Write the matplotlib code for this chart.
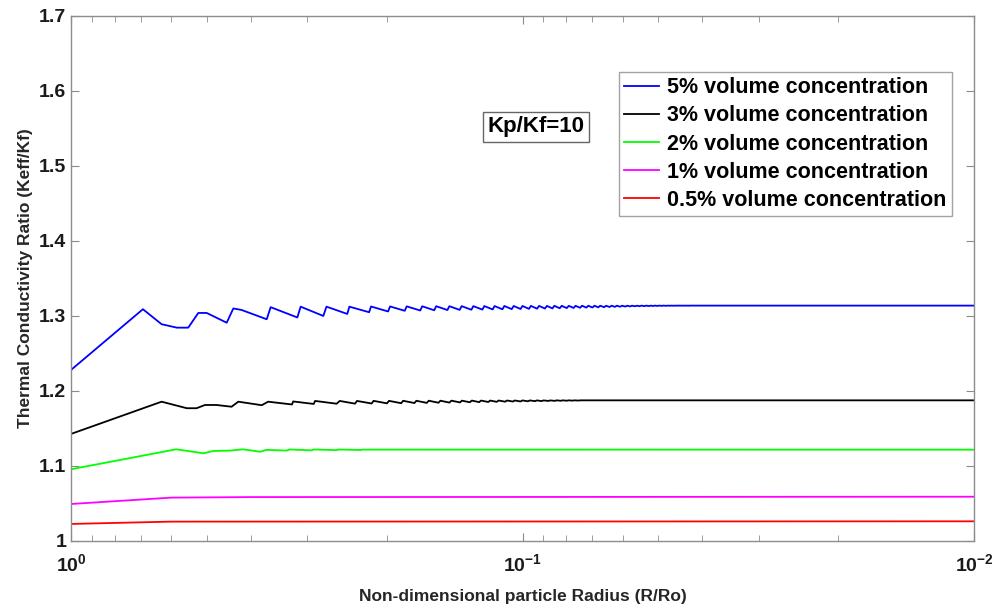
import numpy as np
import matplotlib
matplotlib.use("Agg")
import matplotlib.pyplot as plt
from matplotlib.ticker import LogLocator, NullFormatter, FixedLocator

plt.rcParams['font.family'] = ['Liberation Sans', 'DejaVu Sans']
plt.rcParams['font.weight'] = 'bold'
plt.rcParams['mathtext.fontset'] = 'custom'
plt.rcParams['mathtext.rm'] = 'Liberation Sans:bold'
plt.rcParams['mathtext.bf'] = 'Liberation Sans:bold'
plt.rcParams['mathtext.it'] = 'Liberation Sans:bold'

# ---- data (x = R/Ro, y = Keff/Kf) ----
labels = ['5% volume concentration', '3% volume concentration',
          '2% volume concentration', '1% volume concentration',
          '0.5% volume concentration']
colors = ['#0000ff', '#000000', '#00ff00', '#ff00ff', '#ff0000']

# 5 %: first part, vertex by vertex
blue_head_x = [1.0, 0.693, 0.630, 0.583, 0.550, 0.5225, 0.5005, 0.452, 0.437,
               0.419, 0.3686, 0.3612, 0.3153, 0.310, 0.2762, 0.2717, 0.2444, 0.2418]
blue_head_y = [1.228, 1.309, 1.289, 1.2844, 1.2844, 1.304, 1.304, 1.291, 1.310,
               1.308, 1.2956, 1.3117, 1.298, 1.3124, 1.300, 1.3124, 1.3027, 1.3124]
# 5 %: remaining saw teeth (jump position, value before jump, value after)
blue_tooth_x = [0.2165, 0.1965, 0.1805, 0.1668, 0.1553, 0.1452, 0.1364, 0.1285,
                0.1215, 0.1153, 0.1097, 0.1046, 0.1000, 0.0958, 0.0919, 0.0883,
                0.0850, 0.0819, 0.0790, 0.0763, 0.0738, 0.0715, 0.0693, 0.0673,
                0.0653, 0.0635, 0.0618, 0.0602, 0.0586, 0.0572, 0.0558, 0.0545,
                0.0532, 0.0520, 0.0509, 0.0498, 0.0487, 0.0477, 0.0468, 0.0459,
                0.0450, 0.0441, 0.0433, 0.0425]
blue_tooth_lo = [1.3050, 1.3060, 1.3069, 1.3073, 1.3076, 1.3079, 1.3081, 1.3083,
                 1.3085, 1.3087, 1.3089, 1.3091, 1.3093, 1.3095, 1.3097, 1.3099,
                 1.3101, 1.3103, 1.3105, 1.3107, 1.3109, 1.3111, 1.3113, 1.3115,
                 1.3117, 1.3119, 1.3121, 1.3123, 1.3125, 1.3127, 1.3129, 1.3130,
                 1.3131, 1.3132, 1.3133, 1.3134, 1.3135, 1.3135, 1.3136, 1.3136,
                 1.3137, 1.3137, 1.3137, 1.3137]
blue_tooth_hi = [1.3126, 1.3127, 1.3128, 1.3129, 1.3130, 1.3130, 1.3131, 1.3131,
                 1.3132, 1.3132, 1.3133, 1.3133, 1.3133, 1.3134, 1.3134, 1.3134,
                 1.3135, 1.3135, 1.3135, 1.3135, 1.3136, 1.3136, 1.3136, 1.3136,
                 1.3136, 1.3137, 1.3137, 1.3137, 1.3137, 1.3137, 1.3137, 1.3138,
                 1.3138, 1.3138, 1.3138, 1.3138, 1.3138, 1.3138, 1.3138, 1.3138,
                 1.3138, 1.3138, 1.3138, 1.3138]
blue_end = 1.3138

# 3 %
black_head_x = [1.0, 0.63, 0.554, 0.527, 0.505, 0.476, 0.441, 0.426, 0.378, 0.366,
                0.324, 0.322, 0.290, 0.288, 0.258, 0.254]
black_head_y = [1.1427, 1.1857, 1.177, 1.177, 1.1813, 1.1813, 1.179, 1.1857, 1.181,
                1.1857, 1.182, 1.1860, 1.1827, 1.1867, 1.1830, 1.1867]
black_tooth_x = [0.2326, 0.2137, 0.1976, 0.1838, 0.1718, 0.1613, 0.1520, 0.1437,
                 0.1362, 0.1295, 0.1235, 0.1179, 0.1129, 0.1082, 0.1040, 0.1000,
                 0.0963, 0.0929, 0.0898, 0.0868, 0.0840, 0.0814, 0.0790, 0.0767,
                 0.0745]
black_tooth_lo = [1.1831, 1.1833, 1.1835, 1.1837, 1.1839, 1.1841, 1.1843, 1.1845,
                  1.1847, 1.1849, 1.1851, 1.1853, 1.1855, 1.1857, 1.1859, 1.1860,
                  1.1862, 1.1864, 1.1865, 1.1867, 1.1868, 1.1869, 1.1870, 1.1871,
                  1.1872]
black_tooth_hi = [1.1867, 1.1868, 1.1868, 1.1869, 1.1869, 1.1870, 1.1870, 1.1871,
                  1.1871, 1.1872, 1.1872, 1.1872, 1.1873, 1.1873, 1.1873, 1.1874,
                  1.1874, 1.1874, 1.1874, 1.1874, 1.1875, 1.1875, 1.1875, 1.1875,
                  1.1875]
black_end = 1.1875

# 2 %
green_x = [1.0, 0.585, 0.509, 0.484, 0.444, 0.416, 0.381, 0.369, 0.333, 0.328,
           0.293, 0.290, 0.258, 0.256, 0.228, 0.226, 0.01]
green_y = [1.0956, 1.1222, 1.1169, 1.1200, 1.1205, 1.1222, 1.1190, 1.1215, 1.1205,
           1.1220, 1.1208, 1.1220, 1.1211, 1.1219, 1.1213, 1.1218, 1.1217]

# 1 %
magenta_x = [1.0, 0.60, 0.40, 0.01]
magenta_y = [1.0493, 1.0578, 1.0585, 1.0590]

# 0.5 %
red_x = [1.0, 0.60, 0.01]
red_y = [1.0227, 1.0258, 1.0262]


def saw(head_x, head_y, tooth_x, lo, hi, end):
    xs, ys = list(head_x), list(head_y)
    for tx, a, b in zip(tooth_x, lo, hi):
        xs += [tx * 1.01, tx]
        ys += [a, b]
    xs.append(0.01)
    ys.append(end)
    return xs, ys


curves = [
    saw(blue_head_x, blue_head_y, blue_tooth_x, blue_tooth_lo, blue_tooth_hi, blue_end),
    saw(black_head_x, black_head_y, black_tooth_x, black_tooth_lo, black_tooth_hi, black_end),
    (green_x, green_y),
    (magenta_x, magenta_y),
    (red_x, red_y),
]

fig = plt.figure(figsize=(10, 6.13), dpi=100)
ax = fig.add_axes([0.071, 0.1175, 0.903, 0.8565])

for (xs, ys), c, lab in zip(curves, colors, labels):
    ax.plot(xs, ys, color=c, lw=1.3, label=lab)

ax.set_xscale('log')
ax.set_xlim(1, 0.01)
ax.set_ylim(1, 1.7)
ax.set_yticks(np.arange(1.0, 1.71, 0.1))
ax.set_yticklabels(['1', '1.1', '1.2', '1.3', '1.4', '1.5', '1.6', '1.7'])
ax.xaxis.set_major_locator(FixedLocator([1, 0.1, 0.01]))
ax.set_xticklabels([r'$10^{0}$', r'$10^{-1}$', r'$10^{-2}$'])
ax.xaxis.set_minor_locator(LogLocator(base=10, subs=np.arange(2, 10)))
ax.xaxis.set_minor_formatter(NullFormatter())

for s in ax.spines.values():
    s.set_color('#8c8c8c')
    s.set_linewidth(1.0)
ax.tick_params(which='both', direction='in', top=True, right=True,
               color='#8c8c8c', labelsize=14, labelcolor='#1a1a1a')
ax.tick_params(which='major', length=5.5)
ax.tick_params(which='minor', length=4)
ax.tick_params(axis='x', pad=9)

ax.set_xlabel('Non-dimensional particle Radius (R/Ro)', fontsize=12.5,
              fontweight='bold', color='#262626', labelpad=10)
ax.set_ylabel('Thermal Conductivity Ratio (Keff/Kf)', fontsize=12.5,
              fontweight='bold', color='#262626', labelpad=4)

leg = ax.legend(loc='upper right', bbox_to_anchor=(0.9756, 0.8933),
                borderaxespad=0, fontsize=15.5, frameon=True, fancybox=False,
                handlelength=1.6, handletextpad=0.4, borderpad=0.25,
                labelspacing=0.33)
leg.get_frame().set_edgecolor('#8c8c8c')
leg.get_frame().set_linewidth(1.0)
for t in leg.get_texts():
    t.set_fontweight('bold')

ax.text(0.515, 0.789, 'Kp/Kf=10', transform=ax.transAxes, ha='center',
        va='center', fontsize=16, fontweight='bold',
        bbox=dict(boxstyle='square,pad=0.2', fc='white', ec='#666666', lw=1.0))

fig.savefig('out.png', dpi=100)
